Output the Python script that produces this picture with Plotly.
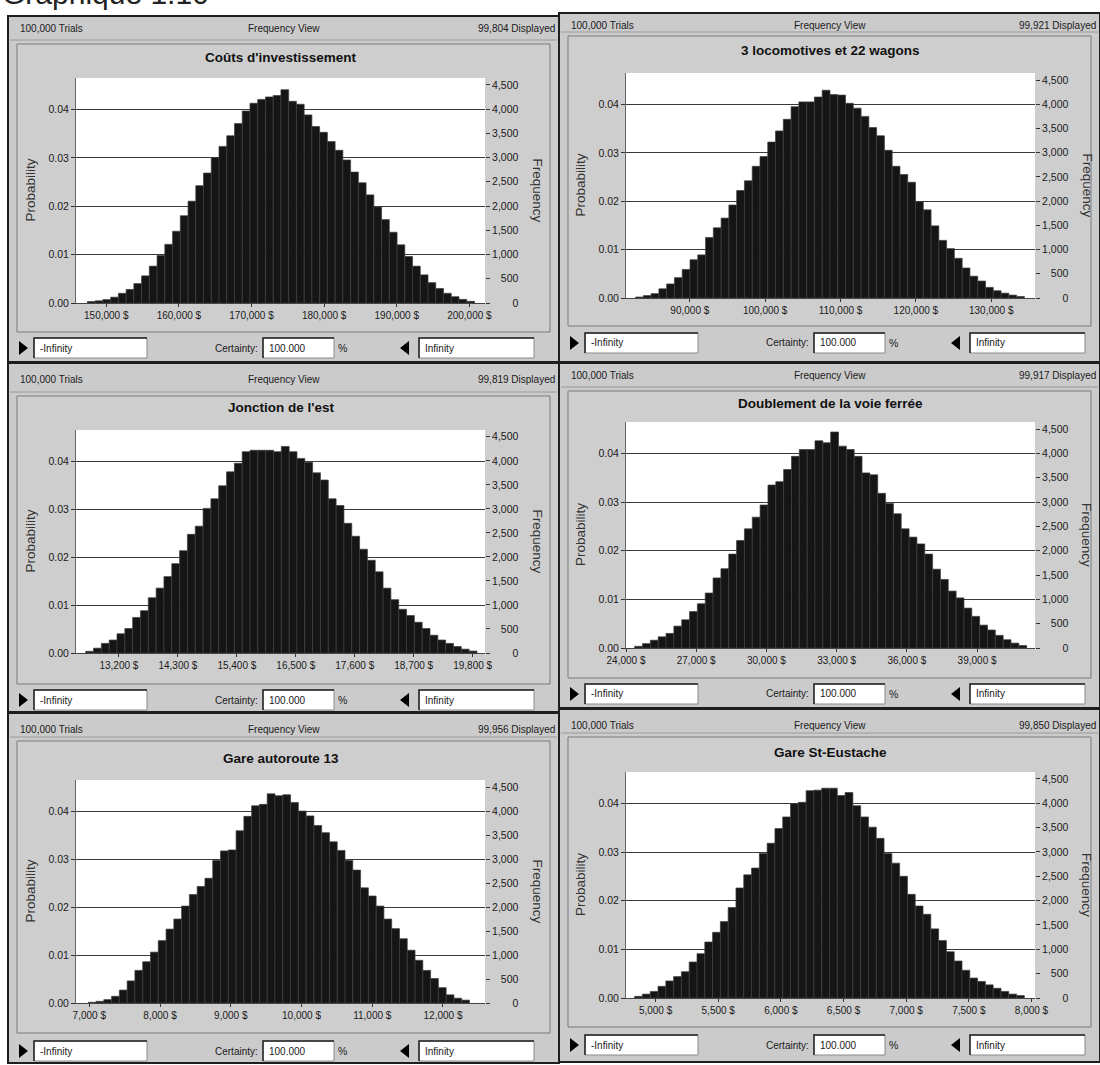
import plotly.graph_objects as go

W, H = 1100, 1065

# ---------------- data ----------------
page_title = "Graphique 1.10"
panel_titles = ["Coûts d'investissement", "3 locomotives et 22 wagons", "Jonction de l'est",
                "Doublement de la voie ferrée", "Gare autoroute 13", "Gare St-Eustache"]
trials_text = "100,000 Trials"
view_text = "Frequency View"
displayed = [99804, 99921, 99819, 99917, 99956, 99850]
certainty_text = "100.000"
lower_text = "-Infinity"
upper_text = "Infinity"

bin_start = [147400, 82800, 12580, 24370, 6985, 4833]
bin_width = [1066, 1032, 146, 335, 110, 62.2]
x_range = [[145830, 202150], [81530, 135810], [12399, 20030],
           [24000, 41475], [6812, 12594], [4764, 8028]]
x_ticks = [[150000, 160000, 170000, 180000, 190000, 200000],
           [90000, 100000, 110000, 120000, 130000],
           [13200, 14300, 15400, 16500, 17600, 18700, 19800],
           [24000, 27000, 30000, 33000, 36000, 39000],
           [7000, 8000, 9000, 10000, 11000, 12000],
           [5000, 5500, 6000, 6500, 7000, 7500, 8000]]
prob_ticks = [0, 0.01, 0.02, 0.03, 0.04]
freq_ticks = [0, 500, 1000, 1500, 2000, 2500, 3000, 3500, 4000, 4500]
prob_top = 0.0465

counts_couts = [30, 45, 70, 120, 200, 280, 400, 560, 760, 980, 1210, 1480, 1800, 2100, 2420, 2680,
                3000, 3230, 3450, 3700, 3960, 4120, 4200, 4250, 4280, 4400, 4160, 4100, 3880, 3640,
                3520, 3330, 3150, 2950, 2700, 2480, 2230, 1980, 1720, 1460, 1200, 960, 760, 580,
                420, 300, 200, 130, 75, 35]
counts_locos = [20, 50, 90, 190, 290, 420, 590, 790, 890, 1250, 1450, 1650, 1920, 2220, 2420, 2720,
                2920, 3220, 3450, 3690, 3950, 4050, 4050, 4150, 4290, 4200, 4190, 4020, 3920, 3750,
                3520, 3350, 3050, 2720, 2550, 2390, 1990, 1820, 1490, 1190, 1020, 820, 620, 450,
                350, 220, 150, 100, 60, 30]
counts_jonction = [35, 100, 200, 270, 400, 510, 740, 880, 1150, 1350, 1590, 1860, 2130, 2470, 2640,
                   3010, 3210, 3480, 3770, 3950, 4190, 4220, 4220, 4220, 4190, 4300, 4190, 4050,
                   3970, 3750, 3600, 3210, 3070, 2700, 2430, 2160, 1930, 1690, 1350, 1110, 910,
                   780, 640, 510, 370, 270, 200, 135, 80, 40]
counts_doublement = [35, 90, 160, 230, 300, 450, 580, 750, 910, 1130, 1440, 1630, 1930, 2210, 2450,
                     2690, 2940, 3350, 3420, 3670, 3940, 4080, 4080, 4260, 4220, 4440, 4150, 4080,
                     3940, 3600, 3560, 3180, 2970, 2760, 2450, 2280, 2140, 1930, 1620, 1410, 1170,
                     1030, 820, 650, 470, 370, 260, 170, 100, 50]
counts_gare13 = [15, 35, 70, 140, 270, 460, 680, 860, 1060, 1300, 1540, 1750, 2020, 2260, 2430, 2600,
                 2970, 3170, 3190, 3590, 3890, 4110, 4140, 4360, 4320, 4340, 4180, 4000, 3900, 3700,
                 3550, 3360, 3180, 2970, 2770, 2400, 2230, 2020, 1750, 1550, 1340, 1100, 890, 680,
                 510, 320, 170, 100, 60]
counts_eustache = [35, 80, 135, 240, 350, 440, 540, 740, 910, 1150, 1350, 1570, 1860, 2260, 2530,
                   2670, 2970, 3180, 3480, 3720, 3990, 4020, 4260, 4270, 4310, 4310, 4160, 4220,
                   3950, 3720, 3510, 3280, 2970, 2770, 2500, 2130, 1890, 1720, 1420, 1180, 950,
                   760, 570, 410, 340, 270, 200, 135, 80, 50]
all_counts = [counts_couts, counts_locos, counts_jonction, counts_doublement, counts_gare13, counts_eustache]

# ---------------- layout geometry (pixels) ----------------
GEOM = [
    dict(fx0=8, fx1=559, fy0=16, fy1=362, hy=28, iy0=44, iy1=332, ty=57, py0=78, py1=303, cy=348),
    dict(fx0=559, fx1=1100, fy0=13, fy1=362, hy=25, iy0=36, iy1=326, ty=50, py0=73, py1=298, cy=343),
    dict(fx0=8, fx1=559, fy0=363, fy1=712, hy=379, iy0=396, iy1=684, ty=407, py0=430, py1=653, cy=700),
    dict(fx0=559, fx1=1100, fy0=363, fy1=708, hy=375, iy0=391, iy1=678, ty=403, py0=422, py1=648, cy=694),
    dict(fx0=8, fx1=559, fy0=713, fy1=1063, hy=729, iy0=741, iy1=1033, ty=758, py0=780, py1=1003, cy=1051),
    dict(fx0=559, fx1=1100, fy0=709, fy1=1062, hy=725, iy0=737, iy1=1027, ty=753, py0=772, py1=998, cy=1045),
]
PLOTX = {8: (76, 485), 559: (626, 1035)}

FONT = "Liberation Sans"
PANEL = "#cbcbcb"
INK = "#1a1a1a"


def px(x):
    return x / W


def py(y):
    return 1 - y / H


fig = go.Figure()
shapes = []
annotations = []
layout_axes = {}

fs1 = "\u2007"  # figure space
fs2 = "\u2008"  # punctuation space


def freq_label(v):
    s = f"{v:,}"
    nd = sum(c.isdigit() for c in s)
    nc = s.count(",")
    return fs1 * (4 - nd) + fs2 * (1 - nc) + s


for k in range(6):
    g = GEOM[k]
    n = k + 1
    xa = "x" if n == 1 else f"x{n}"
    ya = "y" if n == 1 else f"y{n}"
    ya2 = f"y{n + 6}"
    x0p, x1p = PLOTX[g["fx0"]]
    counts = all_counts[k]
    centers = [bin_start[k] + bin_width[k] * (i + 0.5) for i in range(len(counts))]
    probs = [c / displayed[k] for c in counts]

    fig.add_trace(go.Scatter(x=centers, y=probs, xaxis=xa, yaxis=ya, mode="lines",
                             line=dict(width=0), opacity=0, hoverinfo="skip", showlegend=False))
    fig.add_trace(go.Bar(x=centers, y=counts, width=bin_width[k], xaxis=xa, yaxis=ya2,
                         marker=dict(color="#151515", line=dict(color="#3d3d3d", width=0.7)),
                         hoverinfo="skip", showlegend=False))

    xd = [px(x0p), px(x1p)]
    yd = [py(g["py1"]), py(g["py0"])]
    layout_axes["xaxis" if n == 1 else f"xaxis{n}"] = dict(
        domain=xd, anchor=ya, range=x_range[k], tickvals=x_ticks[k], automargin=False,
        ticktext=[f"{v:,} $" for v in x_ticks[k]], ticks="outside", ticklen=3, tickcolor="#333",
        tickfont=dict(size=10, color=INK, family=FONT), showgrid=False, zeroline=False,
        showline=True, linecolor="#444", linewidth=1, fixedrange=True)
    layout_axes["yaxis" if n == 1 else f"yaxis{n}"] = dict(
        domain=yd, anchor=xa, range=[0, prob_top], tickvals=prob_ticks, tickformat=".2f",
        automargin=False,
        ticks="outside", ticklen=4, tickcolor="#333", tickfont=dict(size=10.5, color=INK, family=FONT),
        showgrid=True, gridcolor="#3a3a3a", gridwidth=1, zeroline=False,
        showline=True, linecolor="#666", linewidth=1, fixedrange=True)
    layout_axes[f"yaxis{n + 6}"] = dict(
        overlaying=ya, side="right", anchor=xa, range=[0, prob_top * displayed[k]],
        automargin=False,
        tickvals=freq_ticks, ticktext=[freq_label(v) for v in freq_ticks],
        ticks="outside", ticklen=4, tickcolor="#333", tickfont=dict(size=10.5, color=INK, family=FONT),
        showgrid=False, zeroline=False, showline=False, fixedrange=True)

    fx0, fx1 = g["fx0"], g["fx1"]
    shapes.append(dict(type="rect", xref="paper", yref="paper", layer="below",
                       x0=px(fx0), x1=px(fx1), y0=py(g["fy1"]), y1=py(g["fy0"]),
                       fillcolor=PANEL, line=dict(color="#1e1e1e", width=2)))
    shapes.append(dict(type="line", xref="paper", yref="paper", layer="below",
                       x0=px(fx0 + 2), x1=px(fx1 - 2), y0=py(g["iy0"] - 4), y1=py(g["iy0"] - 4),
                       line=dict(color="#9a9a9a", width=1)))
    shapes.append(dict(type="rect", xref="paper", yref="paper", layer="below",
                       x0=px(fx0 + 9), x1=px(fx1 - 9), y0=py(g["iy1"]), y1=py(g["iy0"]),
                       fillcolor="#cecece", line=dict(color="#7a7a7a", width=1)))
    shapes.append(dict(type="rect", xref="paper", yref="paper", layer="below",
                       x0=px(x0p), x1=px(x1p), y0=py(g["py1"]), y1=py(g["py0"]),
                       fillcolor="#ffffff", line=dict(width=0)))
    shapes.append(dict(type="path", xref=xa, yref=ya, xsizemode="pixel", ysizemode="pixel",
                       xanchor=x_range[k][0], yanchor=0, path="M -13,-7 L 0,0 L -13,7 Z",
                       fillcolor="#000", line=dict(width=0), layer="above"))
    shapes.append(dict(type="path", xref=xa, yref=ya, xsizemode="pixel", ysizemode="pixel",
                       xanchor=x_range[k][1], yanchor=0, path="M 1,4 L 13,-3 L 13,11 Z",
                       fillcolor="#000", line=dict(width=0), layer="above"))

    cy = g["cy"]
    boxes = [(fx0 + 26, fx0 + 139, lower_text), (fx0 + 255, fx0 + 326, certainty_text),
             (fx0 + 411, fx0 + 526, upper_text)]
    for bx0, bx1, txt in boxes:
        shapes.append(dict(type="rect", xref="paper", yref="paper", layer="below",
                           x0=px(bx0), x1=px(bx1), y0=py(cy + 10), y1=py(cy - 10),
                           fillcolor="#ffffff", line=dict(color="#8a8a8a", width=1)))
        shapes.append(dict(type="path", xref="paper", yref="paper", layer="below",
                           path=f"M {px(bx0)},{py(cy + 10)} L {px(bx0)},{py(cy - 10)} L {px(bx1)},{py(cy - 10)}",
                           line=dict(color="#222", width=1.5)))
        annotations.append(dict(x=px(bx0 + 4), y=py(cy), xref="paper", yref="paper", text=txt,
                                showarrow=False, xanchor="left", yanchor="middle",
                                font=dict(size=10, color=INK, family=FONT)))
    a = fx0 + 11
    shapes.append(dict(type="path", xref="paper", yref="paper", layer="above",
                       path=f"M {px(a)},{py(cy - 7)} L {px(a + 9)},{py(cy)} L {px(a)},{py(cy + 7)} Z",
                       fillcolor="#000", line=dict(width=0)))
    b = fx0 + 392
    shapes.append(dict(type="path", xref="paper", yref="paper", layer="above",
                       path=f"M {px(b)},{py(cy)} L {px(b + 9)},{py(cy - 7)} L {px(b + 9)},{py(cy + 7)} Z",
                       fillcolor="#000", line=dict(width=0)))
    annotations.append(dict(x=px(fx0 + 252), y=py(cy), xref="paper", yref="paper", text="Certainty:",
                            showarrow=False, xanchor="right", yanchor="middle",
                            font=dict(size=10, color=INK, family=FONT)))
    annotations.append(dict(x=px(fx0 + 334), y=py(cy), xref="paper", yref="paper", text="%",
                            showarrow=False, xanchor="center", yanchor="middle",
                            font=dict(size=10.5, color=INK, family=FONT)))

    hy = g["hy"]
    annotations.append(dict(x=px(fx0 + 10), y=py(hy), xref="paper", yref="paper", text=trials_text,
                            showarrow=False, xanchor="left", yanchor="middle",
                            font=dict(size=10, color=INK, family=FONT)))
    annotations.append(dict(x=px((fx0 + fx1) / 2), y=py(hy), xref="paper", yref="paper",
                            text=view_text, showarrow=False, xanchor="center", yanchor="middle",
                            font=dict(size=10, color=INK, family=FONT)))
    annotations.append(dict(x=px(fx1 - 2), y=py(hy), xref="paper", yref="paper",
                            text=f"{displayed[k]:,} Displayed", showarrow=False, xanchor="right",
                            yanchor="middle", font=dict(size=10, color=INK, family=FONT)))
    annotations.append(dict(x=px((x0p + x1p) / 2), y=py(g["ty"]), xref="paper", yref="paper",
                            text=f"<b>{panel_titles[k]}</b>", showarrow=False, xanchor="center",
                            yanchor="middle", font=dict(size=13.5, color="#111", family=FONT)))
    ymid = (g["py0"] + g["py1"]) / 2
    annotations.append(dict(x=px(x0p - 46), y=py(ymid), xref="paper", yref="paper",
                            text="Probability", showarrow=False, textangle=-90, xanchor="center",
                            yanchor="middle", font=dict(size=13.5, color="#333", family=FONT)))
    annotations.append(dict(x=px(x1p + 52), y=py(ymid), xref="paper", yref="paper",
                            text="Frequency", showarrow=False, textangle=90, xanchor="center",
                            yanchor="middle", font=dict(size=13.5, color="#333", family=FONT)))

annotations.append(dict(x=0, y=py(12), xref="paper", yref="paper", text=page_title,
                        showarrow=False, xanchor="left", yanchor="bottom",
                        font=dict(size=30, color="#222", family=FONT)))

fig.update_layout(width=W, height=H, autosize=False, margin=dict(l=0, r=0, t=0, b=0, pad=0),
                  paper_bgcolor="#ffffff", plot_bgcolor="rgba(0,0,0,0)",
                  font=dict(family=FONT, color=INK), showlegend=False, barmode="overlay",
                  shapes=shapes, annotations=annotations, **layout_axes)

fig.write_html("out.html")
